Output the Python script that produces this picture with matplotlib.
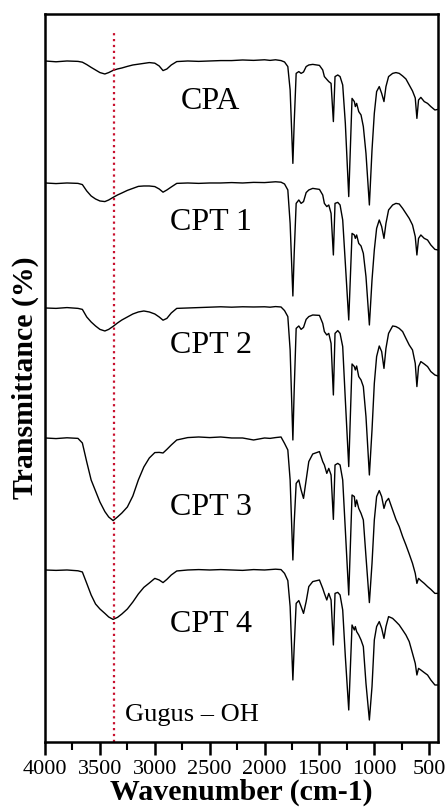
import matplotlib
matplotlib.use("Agg")
import matplotlib.pyplot as plt

plt.rcParams['font.family'] = ['Liberation Serif', 'DejaVu Serif']

# wavenumber grid (cm-1), shared by all spectra
wavenumber = [4000, 3900, 3800, 3700, 3660, 3620, 3580, 3540, 3500, 3455, 3420, 3380,
              3340, 3300, 3250, 3200, 3150, 3100, 3050, 3000, 2960, 2925, 2890, 2850,
              2800, 2700, 2600, 2500, 2400, 2300, 2200, 2100, 2000, 1950, 1900, 1850,
              1818, 1788, 1767, 1742, 1730, 1712, 1688, 1667, 1645, 1621, 1597, 1561,
              1500, 1470, 1455, 1433, 1415, 1394, 1373, 1358, 1333, 1312, 1288, 1264,
              1233, 1203, 1182, 1173, 1161, 1142, 1121, 1100, 1076, 1045, 1021, 1000,
              979, 955, 933, 912, 894, 870, 833, 803, 773, 742, 712, 682, 652, 627,
              612, 597, 576, 545, 515, 485, 448, 420]

# transmittance (%)
cpa = [100, 99.6, 100, 99.8, 99.4, 98.2, 96.8, 95.5, 94.2, 93.5, 94.2, 95.3,
       96, 96.5, 97.3, 98, 98.4, 98.8, 99.2, 98.9, 97.5, 95.2, 96, 98,
       99.7, 100, 99.8, 100, 100.2, 100.2, 100.5, 100.3, 100.6, 100.3, 100.6, 100.2,
       99.5, 97.2, 85.5, 48.8, 69, 93.8, 94.7, 93.8, 94.5, 97.2, 98, 98.3,
       97.8, 95.5, 92.2, 90.8, 89.7, 88.8, 69.7, 92.2, 93, 92.2, 88, 68.8,
       32.2, 81.3, 79.7, 77.2, 78.8, 74.7, 73, 67.2, 53.8, 28, 55.5, 73.8,
       84.7, 87.2, 83.8, 79.7, 87.2, 92.2, 93.8, 94.2, 93.8, 92.5, 91, 88, 85, 81.5,
       71.3, 80.5, 81.8, 79.7, 78.8, 77.2, 75.5, 75.8]
cpt1 = [100, 99.7, 100, 99.8, 99.2, 96, 93.5, 92, 91, 90.7, 91.5, 92.8,
        94, 95, 96.3, 97.3, 98.3, 98.5, 98.5, 98.2, 97, 95.4, 96.5, 98,
        99.8, 100, 99.8, 100, 100, 100.2, 100, 100.3, 100.2, 100.4, 100.6, 100.4,
        99.5, 96.5, 79.8, 43.5, 64.8, 89.8, 91.5, 89.8, 90.7, 95.2, 96.5, 97.3,
        96.8, 94, 89.8, 88.2, 89, 84.8, 64, 89.8, 90.3, 89, 81.5, 59.8,
        31.5, 74.8, 74, 72.3, 74, 69.8, 68.5, 64.8, 53.2, 29, 51.5, 66.5,
        77.3, 81.5, 78.2, 72.3, 79.8, 86.5, 89, 89.8, 89.5, 87.3, 84.8, 82.3, 79, 73.2,
        64, 72.3, 74, 72.3, 71.5, 69, 66.8, 66.5]
cpt2 = [100, 99.8, 100.2, 99.8, 99.3, 95.5, 93, 91, 89.3, 88.5, 89.3, 90.8,
        92.5, 94, 95.5, 97, 98, 98.5, 98, 97, 95.5, 93.9, 94.8, 97.5,
        99.8, 100, 100.2, 100.4, 100.6, 100.4, 100.6, 100.5, 100.6, 100.4, 100.7, 100.5,
        98.7, 95.7, 79, 34, 59, 89.8, 91, 89.3, 90.3, 94.3, 95.7, 96.5,
        96.3, 92.3, 88.2, 86.5, 87.3, 82.3, 56.5, 87.3, 88.7, 87.3, 80.7, 54,
        20.7, 72, 70.7, 69, 71, 65.7, 64, 60.7, 45.7, 16.5, 39, 62.3,
        75.7, 81, 78.2, 69.8, 79.8, 87.3, 91, 90.7, 89.8, 88.2, 84.8, 81.5, 79, 72.3,
        60.7, 70.7, 73.2, 72, 70.7, 68.2, 66.5, 66]
cpt3 = [100, 99.7, 100.1, 99.8, 97.5, 88, 79, 73.5, 68, 63.2, 60.5, 58.7,
        60.5, 62.5, 65.5, 71, 79, 85.5, 90, 92.7, 92.8, 92.5, 94.3, 96.5,
        99, 100.2, 100.5, 100.2, 100.5, 100, 100, 99, 100, 99.8, 100.2, 100.5,
        97.3, 94, 79, 39, 57.5, 77.3, 79, 74, 69.8, 79, 88.2, 92,
        93.2, 88.2, 86.5, 82.3, 84.8, 81.5, 59.3, 86.5, 87.3, 86.5, 79, 54,
        21.5, 71.5, 70.7, 65.7, 69, 64.8, 62.3, 59, 40.7, 17.7, 37.3, 59,
        70.7, 73.7, 70.7, 64.8, 68.2, 69.8, 64, 59.3, 55.7, 50.7, 46.5, 42, 37.3, 32.3,
        27.3, 29.8, 28.7, 27.3, 25.7, 24.3, 22.3, 22.3]
cpt4 = [100, 99.8, 100, 99.6, 99, 93.3, 87.5, 83, 80.5, 78.3, 76.5, 75.3,
        76.3, 78, 80.5, 84, 88, 91.3, 93.5, 95.8, 95, 93.7, 95.3, 97.5,
        99.5, 100, 100.2, 100, 100.2, 100, 99.8, 100.2, 100, 100.2, 100.4, 100.2,
        98.3, 94.7, 81.7, 45, 61.7, 83.3, 84.7, 81.7, 78.3, 84.2, 91.7, 94.2,
        95, 90.8, 88.3, 85, 88.3, 85, 62.5, 88.3, 88.8, 87.5, 80, 56.7,
        30, 72.5, 70, 71.7, 69.2, 67.5, 65, 61.7, 43.3, 25, 41.7, 65,
        71.7, 74.2, 70.8, 65.8, 71.7, 76.7, 75.8, 74.2, 72.5, 70, 67.5, 64.2, 58.3, 53.3,
        47.5, 50.8, 50, 48.7, 47.5, 45, 42.5, 42.5]

labels = ['CPA', 'CPT 1', 'CPT 2', 'CPT 3', 'CPT 4']
spectra = [cpa, cpt1, cpt2, cpt3, cpt4]
offsets = [240.5, 179.5, 117, 52, -14]
label_y = [320, 259.5, 198, 117, 58.5]

oh_band = 3375

fig = plt.figure(figsize=(4.46, 8.08), dpi=100)
ax = fig.add_axes([0.101, 0.0817, 0.881, 0.901])

for name, t, off, ly in zip(labels, spectra, offsets, label_y):
    ax.plot(wavenumber, [v + off for v in t], color='black', lw=1.0)
    ax.text(2490, ly, name, fontsize=23, ha='center', va='center')

ax.vlines(oh_band, 0, 355.5, colors='#c8102e', linestyles=':', lw=1.6)
ax.text(3270, 13.5, 'Gugus \u2013 OH', fontsize=19, ha='left', va='center')

ax.set_xlim(4000, 420)
ax.set_ylim(0, 364)
ax.set_xticks([4000, 3500, 3000, 2500, 2000, 1500, 1000, 500])
ax.set_xticks([3750, 3250, 2750, 2250, 1750, 1250, 750], minor=True)
ax.set_yticks([])
ax.tick_params(axis='x', which='major', direction='out', length=9, width=1.8,
               labelsize=16, pad=4)
ax.tick_params(axis='x', which='minor', direction='out', length=6, width=1.5)
for s in ax.spines.values():
    s.set_linewidth(1.8)

ax.set_xlabel('Wavenumber (cm-1)', fontsize=21.5, fontweight='bold', labelpad=0)
ax.set_ylabel('Transmittance (%)', fontsize=21.5, fontweight='bold', labelpad=4)

fig.savefig('out.png', dpi=100)
